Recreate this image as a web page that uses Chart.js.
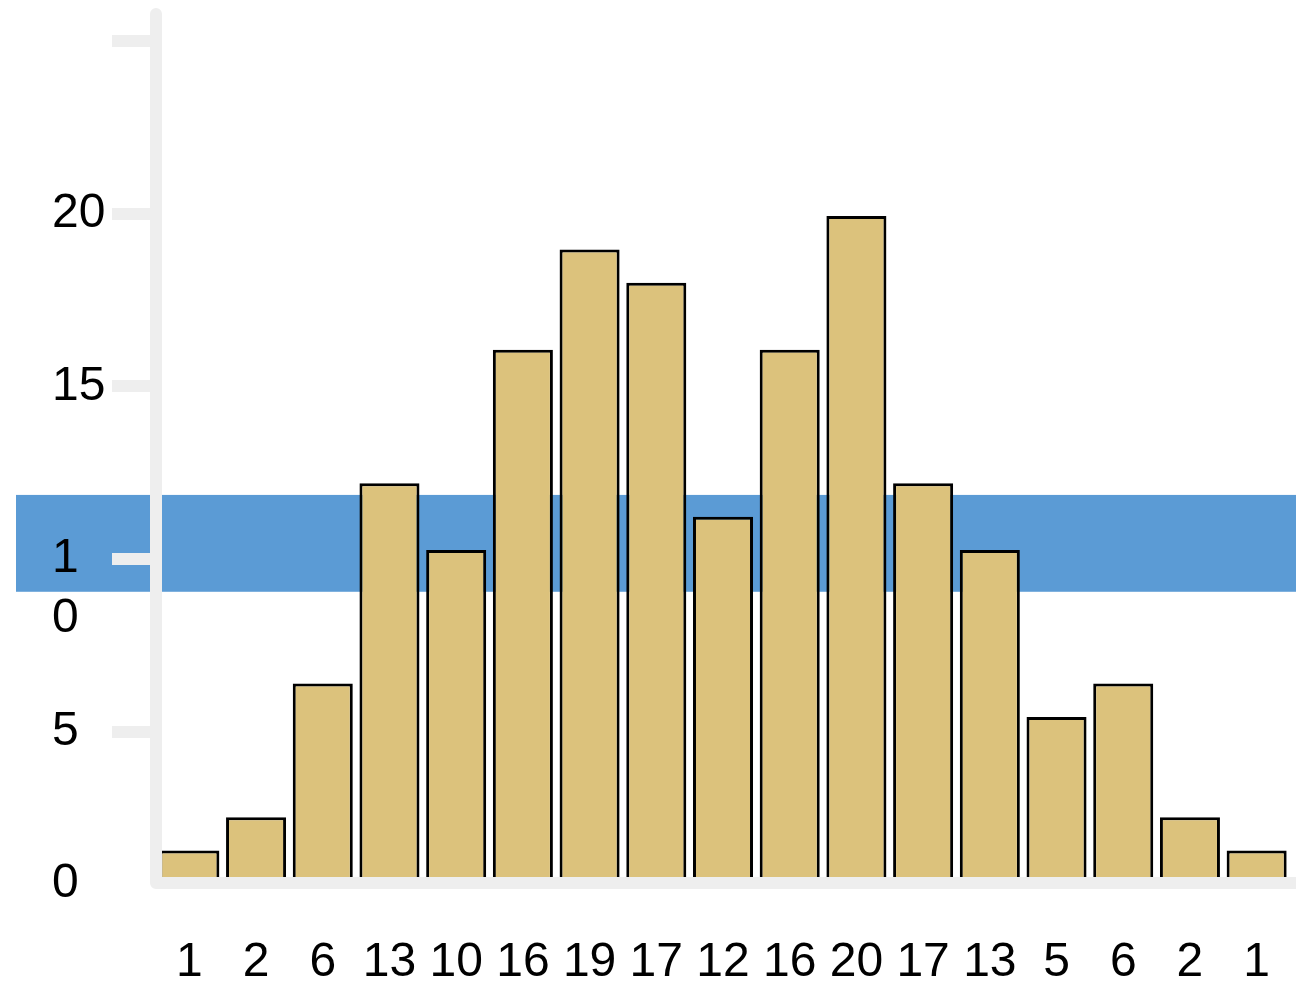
<!DOCTYPE html>
<html lang="en">

<head>
    <meta charset="UTF-8">
    <meta name="viewport" content="width=device-width, initial-scale=1.0">
    <script src="https://cdn.jsdelivr.net/npm/chart.js@4.4.0/dist/chart.umd.min.js"></script>
    <title>Histograma</title>
    <style>
        html, body { margin: 0; padding: 0; background: #ffffff; }
        #grafico { width: 1296px; height: 983px; }
    </style>
</head>

<body>
    <div id="grafico">
        <canvas id="canvas"></canvas>
    </div>
</body>

</html>

<script>
    // dados do grafico
    const categorias = ['1', '2', '6', '13', '10', '16', '19', '17', '12', '16', '20', '17', '13', '5', '6', '2', '1'];
    const valores = [1, 2, 6, 12, 10, 16, 19, 18, 11, 16, 20, 12, 10, 5, 6, 2, 1];

    // eixo y visivel
    const yTicks = [0, 5, 10, 15, 20, 25];
    const yTickLabels = ['0', '5', ['', '1', '0'], '15', '20', ''];

    // faixa azul (em unidades do eixo das barras)
    const faixaAzul = [8.75, 11.65];

    const corBarra = '#dcc27c';
    const corFaixa = '#5b9bd5';
    const corEixo = '#eeeeee';

    // desenha a faixa azul antes de tudo
    const pluginFaixa = {
        id: 'faixa',
        beforeDraw(chart) {
            const ctx = chart.ctx;
            const y = chart.scales.y;
            const topo = y.getPixelForValue(faixaAzul[1]);
            const base = y.getPixelForValue(faixaAzul[0]);
            ctx.save();
            ctx.fillStyle = corFaixa;
            ctx.fillRect(chart.chartArea.left - 140, topo, chart.width, base - topo);
            ctx.restore();
        }
    };

    // linhas dos eixos com ponta arredondada, por cima das barras
    const pluginEixos = {
        id: 'eixos',
        afterDatasetsDraw(chart) {
            const ctx = chart.ctx;
            const area = chart.chartArea;
            ctx.save();
            ctx.strokeStyle = corEixo;
            ctx.lineWidth = 12;
            ctx.lineCap = 'round';
            ctx.lineJoin = 'round';
            ctx.beginPath();
            ctx.moveTo(area.left, area.top);
            ctx.lineTo(area.left, area.bottom - 1);
            ctx.lineTo(chart.width + 10, area.bottom - 1);
            ctx.stroke();
            ctx.restore();
        }
    };

    const fonte = { family: "'Liberation Sans', Arial, sans-serif", size: 48, lineHeight: 1.25 };

    const config = {
        type: 'bar',
        data: {
            labels: categorias,
            datasets: [{
                data: valores,
                backgroundColor: corBarra,
                borderColor: '#000000',
                borderWidth: 3,
                categoryPercentage: 1,
                barPercentage: 0.9,
                yAxisID: 'y'
            }]
        },
        options: {
            responsive: true,
            maintainAspectRatio: false,
            animation: false,
            layout: { padding: { left: 52, top: 14, right: 6, bottom: 0 } },
            plugins: {
                legend: { display: false },
                tooltip: { enabled: false }
            },
            scales: {
                x: {
                    offset: true,
                    grid: { display: false },
                    border: { display: false },
                    ticks: {
                        font: fonte,
                        color: '#000000',
                        padding: 41,
                        maxRotation: 0,
                        autoSkip: false
                    },
                    afterFit(scale) {
                        scale.height = 99;
                        scale.paddingLeft = 0;
                        scale.paddingRight = 0;
                    }
                },
                y: {
                    display: false,
                    min: 0,
                    max: 26.05
                },
                yt: {
                    position: 'left',
                    min: 0.6,
                    max: 25.78,
                    grid: {
                        drawOnChartArea: false,
                        tickLength: 44,
                        lineWidth: 12,
                        tickColor: (c) => c.index === 0 ? 'rgba(0,0,0,0)' : corEixo
                    },
                    border: { display: false },
                    ticks: {
                        font: fonte,
                        color: '#000000',
                        padding: 6,
                        crossAlign: 'far',
                        autoSkip: false,
                        callback: (valor, i) => yTickLabels[i]
                    },
                    afterBuildTicks(scale) {
                        scale.ticks = yTicks.map(v => ({ value: Math.max(v, scale.min) }));
                    },
                    afterFit(scale) {
                        scale.width = 104;
                        scale.paddingTop = 0;
                        scale.paddingBottom = 0;
                    }
                }
            }
        },
        plugins: [pluginFaixa, pluginEixos]
    };

    new Chart(document.getElementById('canvas'), config);
</script>
